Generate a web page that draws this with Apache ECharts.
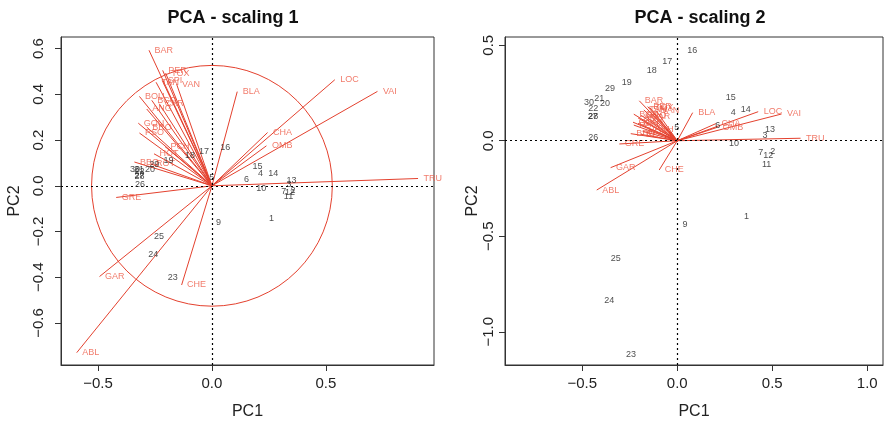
<!DOCTYPE html>
<html>
<head>
<meta charset="utf-8">
<script src="https://cdn.jsdelivr.net/npm/echarts@6/dist/echarts.min.js"></script>
<style>html,body{margin:0;padding:0;background:#fff;}#c{width:885px;height:427px;}</style>
</head>
<body>
<div id="c"></div>
<script>
// ---- data ----
const speciesNames = ['CHA','TRU','VAI','LOC','OMB','BLA','HOT','TOX','VAN','CHE','BAR','SPI','GOU','BRO','PER','BOU','PSO','ROT','CAR','TAN','BCO','PCH','GRE','GAR','BBO','ABL','ANG'];
const species1X = [0.244,0.904,0.726,0.539,0.239,0.111,-0.254,-0.203,-0.155,-0.133,-0.276,-0.218,-0.323,-0.286,-0.216,-0.318,-0.318,-0.269,-0.231,-0.245,-0.264,-0.206,-0.420,-0.493,-0.340,-0.593,-0.286];
const species1Y = [0.233,0.032,0.413,0.464,0.175,0.412,0.140,0.493,0.445,-0.434,0.593,0.461,0.274,0.257,0.505,0.391,0.231,0.096,0.359,0.453,0.374,0.172,-0.051,-0.397,0.104,-0.730,0.336];
const species2X = [0.204,0.649,0.549,0.426,0.210,0.081,-0.183,-0.146,-0.112,-0.095,-0.200,-0.157,-0.233,-0.206,-0.156,-0.229,-0.229,-0.194,-0.166,-0.176,-0.190,-0.148,-0.305,-0.351,-0.245,-0.424,-0.206];
const species2Y = [0.090,0.013,0.140,0.152,0.070,0.147,0.050,0.175,0.158,-0.153,0.209,0.164,0.097,0.091,0.179,0.139,0.082,0.034,0.127,0.161,0.133,0.061,-0.017,-0.141,0.037,-0.258,0.119];

const siteNames = ['1','2','3','4','5','6','7','9','10','11','12','13','14','15','16','17','18','19','20','21','22','23','24','25','26','27','28','29','30'];
const sites1X = [0.261,0.356,0.338,0.213,-0.001,0.152,0.315,0.029,0.216,0.336,0.342,0.349,0.269,0.200,0.058,-0.035,-0.096,-0.191,-0.272,-0.320,-0.318,-0.172,-0.257,-0.232,-0.315,-0.318,-0.318,-0.253,-0.337];
const sites1Y = [-0.145,-0.022,0.004,0.053,0.036,0.026,-0.025,-0.161,-0.010,-0.047,-0.028,0.023,0.055,0.085,0.168,0.150,0.133,0.109,0.070,0.072,0.062,-0.401,-0.302,-0.222,0.007,0.045,0.042,0.095,0.073];
const sites2X = [0.365,0.502,0.462,0.295,-0.003,0.213,0.439,0.041,0.298,0.470,0.479,0.488,0.360,0.281,0.079,-0.053,-0.135,-0.266,-0.381,-0.411,-0.442,-0.244,-0.358,-0.324,-0.442,-0.445,-0.443,-0.354,-0.465];
const sites2Y = [-0.398,-0.058,0.026,0.147,0.070,0.082,-0.063,-0.441,-0.014,-0.122,-0.075,0.061,0.164,0.227,0.470,0.417,0.370,0.304,0.196,0.222,0.170,-1.117,-0.834,-0.619,0.018,0.129,0.126,0.274,0.199];

const circleRadius = 0.528;
const x1Ticks = [-0.5, 0, 0.5];
const y1Ticks = [-0.6, -0.4, -0.2, 0, 0.2, 0.4, 0.6];
const x2Ticks = [-0.5, 0, 0.5, 1.0];
const y2Ticks = [-1.0, -0.5, 0, 0.5];

// ---- styles ----
const RED = '#E4412E';
const RED_TXT = '#EE5A46';
const FONT = '"Liberation Sans", Arial, Helvetica, sans-serif';

function fmt(v){ return (v < 0 ? '\u2212' : '') + Math.abs(v).toFixed(1); }

function xAxis(idx, min, max, ticks){
  return {
    type:'value', gridIndex: idx, min, max,
    name:'PC1', nameLocation:'middle', nameGap:39,
    nameTextStyle:{fontFamily:FONT, fontSize:16, color:'#222'},
    axisLine:{show:true, onZero:false, lineStyle:{color:'#333', width:1}},
    axisTick:{show:true, customValues:ticks, length:6, lineStyle:{color:'#333'}},
    axisLabel:{customValues:ticks, formatter:fmt, fontFamily:FONT, fontSize:15, color:'#222', margin:11},
    splitLine:{show:false}
  };
}
function yAxis(idx, min, max, ticks, labelMargin, nameGap){
  return {
    type:'value', gridIndex: idx, min, max,
    name:'PC2', nameLocation:'middle', nameGap:nameGap, nameRotate:90,
    nameTextStyle:{fontFamily:FONT, fontSize:16, color:'#222'},
    axisLine:{show:true, onZero:false, lineStyle:{color:'#333', width:1}},
    axisTick:{show:true, customValues:ticks, length:6, lineStyle:{color:'#333'}},
    axisLabel:{customValues:ticks, formatter:fmt, rotate:90, fontFamily:FONT, fontSize:15, color:'#222', margin:labelMargin},
    splitLine:{show:false}
  };
}

function panelSeries(idx, sx, sy, px, py){
  const arr = [];
  arr.push({
    type:'lines', coordinateSystem:'cartesian2d', xAxisIndex:idx, yAxisIndex:idx,
    silent:true, z:3,
    lineStyle:{color:RED, width:1, opacity:1},
    data: speciesNames.map((n,i)=>({coords:[[0,0],[sx[i],sy[i]]]})),
    markLine:{
      silent:true, symbol:['none','none'], label:{show:false},
      lineStyle:{color:'#000', type:[2,3], width:1.2},
      data:[{xAxis:0},{yAxis:0}]
    }
  });
  arr.push({
    type:'scatter', xAxisIndex:idx, yAxisIndex:idx, silent:true, z:4,
    symbolSize:1, itemStyle:{color:'rgba(0,0,0,0)'},
    data: speciesNames.map((n,i)=>({name:n, value:[sx[i],sy[i]]})),
    label:{show:true, position:'right', distance:5, formatter:'{b}', fontFamily:FONT, fontSize:9, color:RED_TXT}
  });
  arr.push({
    type:'scatter', xAxisIndex:idx, yAxisIndex:idx, silent:true, z:5,
    symbolSize:1, itemStyle:{color:'rgba(0,0,0,0)'},
    data: siteNames.map((n,i)=>({name:n, value:[px[i],py[i]]})),
    label:{show:true, position:'inside', formatter:'{b}', fontFamily:FONT, fontSize:9, color:'#222'}
  });
  return arr;
}

const series = [].concat(
  panelSeries(0, species1X, species1Y, sites1X, sites1Y),
  panelSeries(1, species2X, species2Y, sites2X, sites2Y)
);
series.push({
  type:'custom', xAxisIndex:0, yAxisIndex:0, silent:true, z:2,
  data:[[0,0]],
  renderItem:function(params, api){
    const c = api.coord([api.value(0), api.value(1)]);
    const r = api.size([circleRadius, 0])[0];
    return {type:'circle', shape:{cx:c[0], cy:c[1], r:r}, style:{fill:'none', stroke:RED, lineWidth:1}};
  }
});

const chart = echarts.init(document.getElementById('c'), null, {renderer:'canvas'});
chart.setOption({
  animation:false,
  backgroundColor:'#fff',
  title:[
    {text:'PCA - scaling 1', left:228, top:4, textAlign:'center', textStyle:{fontFamily:FONT, fontSize:18, fontWeight:'bold', color:'#111'}},
    {text:'PCA - scaling 2', left:695, top:4, textAlign:'center', textStyle:{fontFamily:FONT, fontSize:18, fontWeight:'bold', color:'#111'}}
  ],
  grid:[
    {left:61, top:37, width:373, height:328, show:true, borderColor:'#333', borderWidth:1, backgroundColor:'transparent'},
    {left:505, top:37, width:378, height:328, show:true, borderColor:'#333', borderWidth:1, backgroundColor:'transparent'}
  ],
  xAxis:[ xAxis(0, -0.662, 0.974, x1Ticks), xAxis(1, -0.907, 1.083, x2Ticks) ],
  yAxis:[ yAxis(0, -0.784, 0.651, y1Ticks, 15, 38), yAxis(1, -1.174, 0.543, y2Ticks, 9, 22) ],
  series: series
});
</script>
</body>
</html>
